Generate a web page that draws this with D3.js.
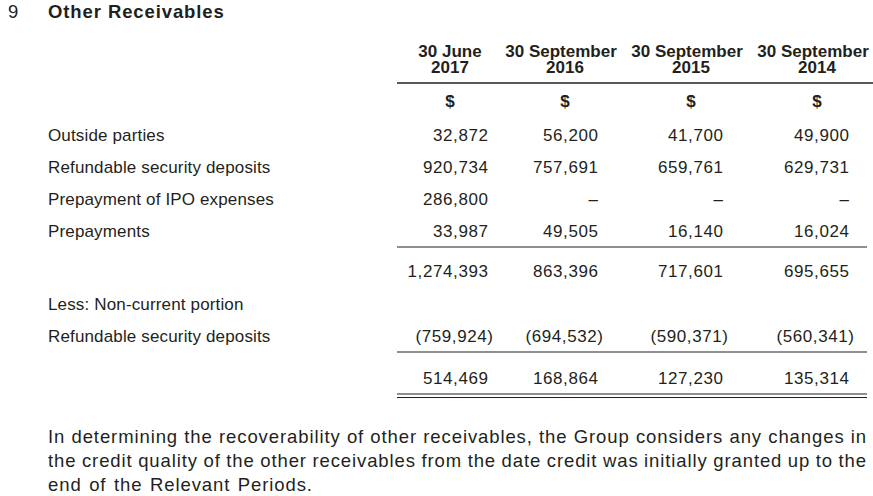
<!DOCTYPE html>
<html>
<head>
<meta charset="utf-8">
<script src="https://cdn.jsdelivr.net/npm/d3@7"></script>
<style>
  body { margin: 0; background: #fff; }
  svg { display: block; font-family: "Liberation Sans", Arial, sans-serif; }
  text { fill: #231f20; }
</style>
</head>
<body>
<svg></svg>
<script>
const size = {w: 873, h: 496};
const ink = '#231f20';

// ---- data ----
const sectionNo = '9';
const sectionTitle = 'Other Receivables';
const headTop = ['30 June', '30 September', '30 September', '30 September'];
const headYear = ['2017', '2016', '2015', '2014'];
const currency = ['$', '$', '$', '$'];

const rowLabels = [
    'Outside parties',
    'Refundable security deposits',
    'Prepayment of IPO expenses',
    'Prepayments',
    '',
    'Less: Non-current portion',
    'Refundable security deposits',
    ''
];
const outsideParties = [32872, 56200, 41700, 49900];
const securityDeposits = [920734, 757691, 659761, 629731];
const ipoExpenses = [286800, null, null, null];
const prepayments = [33987, 49505, 16140, 16024];
const subtotal = [1274393, 863396, 717601, 695655];
const lessHeading = [];
const nonCurrent = [-759924, -694532, -590371, -560341];
const netTotal = [514469, 168864, 127230, 135314];
const rowValues = [outsideParties, securityDeposits, ipoExpenses, prepayments,
    subtotal, lessHeading, nonCurrent, netTotal];

const noteLines = [
    'In determining the recoverability of other receivables, the Group considers any changes in',
    'the credit quality of the other receivables from the date credit was initially granted up to the',
    'end of the Relevant Periods.'
];

// ---- layout ----
const svg = d3.select('svg').attr('width', size.w).attr('height', size.h);

const cols = d3.range(headTop.length);
// column centres / right edges of the figures (columns are not evenly spaced)
const colCentre = d3.scaleOrdinal().domain(cols).range([450, 565, 691, 817]);
const colRight = d3.scaleOrdinal().domain(cols).range([488, 598, 723, 849]);

// row baselines, in row-pitch units (extra room around the rules)
const rowSlot = [0, 1, 2, 3, 4.25, 5.28, 6.28, 7.6];
const y = d3.scaleLinear().domain([0, 1]).range([141, 173]);

const fmt = d3.format(',');
const labelX = 48;
const ruleL = 397, ruleR = 867;
const numSpacing = 0.6;

// title
svg.append('text').attr('x', 8).attr('y', 18)
    .style('font-size', '18.5px')
    .text(sectionNo);
svg.append('text').attr('x', labelX).attr('y', 18)
    .style('font-size', '18.5px').style('font-weight', 'bold')
    .style('letter-spacing', '0.9px')
    .text(sectionTitle);

// column headers
const head = svg.append('g').attr('class', 'head')
    .style('font-size', '17px').style('font-weight', 'bold')
    .attr('text-anchor', 'middle');
head.selectAll('text.top').data(cols).join('text').attr('class', 'top')
    .attr('x', d => colCentre(d) - (headTop[d].length > 8 ? 4 : 0))
    .attr('y', 57).text(d => headTop[d]);
head.selectAll('text.year').data(cols).join('text').attr('class', 'year')
    .attr('x', d => colCentre(d)).attr('y', 73).text(d => headYear[d]);
head.selectAll('text.cur').data(cols).join('text').attr('class', 'cur')
    .attr('x', d => colCentre(d)).attr('y', 107).text(d => currency[d]);

svg.append('line').attr('x1', ruleL).attr('x2', size.w)
    .attr('y1', 83).attr('y2', 83)
    .attr('stroke', ink).attr('stroke-width', 1.3);

// body rows
const body = svg.append('g').attr('class', 'body').style('font-size', '17px');

body.selectAll('text.label').data(rowLabels).join('text').attr('class', 'label')
    .attr('x', labelX).attr('y', (d, i) => y(rowSlot[i]))
    .style('letter-spacing', '0.15px')
    .text(d => d);

const cells = [];
rowValues.forEach((vals, r) => vals.forEach((v, c) => cells.push({r, c, v})));

const cellG = body.selectAll('text.val').data(cells).join('text').attr('class', 'val')
    .attr('y', d => y(rowSlot[d.r]))
    .attr('text-anchor', 'end')
    .style('letter-spacing', numSpacing + 'px');

cellG.each(function(d) {
    const t = d3.select(this);
    const xr = colRight(d.c) + numSpacing;
    if (d.v === null) {
        t.attr('x', xr).text('\u2013');
    } else if (d.v < 0) {
        // closing bracket hangs past the figure column
        t.attr('x', xr + 5).text('(' + fmt(-d.v) + ')');
    } else {
        t.attr('x', xr).text(fmt(d.v));
    }
});

// rules under the totals
const rules = [
    {y: 247}, {y: 352}, {y: 394}, {y: 397.5}
];
svg.selectAll('line.rule').data(rules).join('line').attr('class', 'rule')
    .attr('x1', ruleL).attr('x2', ruleR)
    .attr('y1', d => d.y).attr('y2', d => d.y)
    .attr('stroke', ink).attr('stroke-width', 1.2);

// note paragraph, justified like the print
const note = svg.append('g').attr('class', 'note')
    .style('font-size', '18.5px').style('letter-spacing', '0.9px');
const noteRight = 867;
noteLines.forEach((line, i) => {
    const by = 443 + i * 24;
    const words = line.split(' ');
    const widths = words.map(w => {
        const tmp = note.append('text').text(w);
        const wd = tmp.node().getComputedTextLength();
        tmp.remove();
        return wd;
    });
    const last = i === noteLines.length - 1;
    const total = d3.sum(widths);
    const gap = last ? 7.6 : (noteRight - labelX - total) / (words.length - 1);
    let x = labelX;
    const t = note.append('text').attr('y', by);
    words.forEach((w, k) => {
        t.append('tspan').attr('x', x).text(w);
        x += widths[k] + gap;
    });
});
</script>
</body>
</html>
